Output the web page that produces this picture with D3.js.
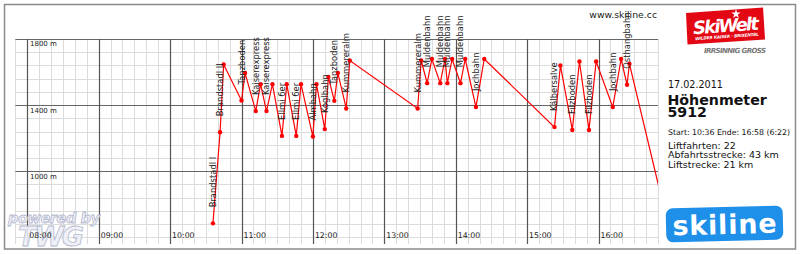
<!DOCTYPE html>
<html><head><meta charset="utf-8">
<script src="https://cdn.jsdelivr.net/npm/d3@7/dist/d3.min.js"></script>
<style>html,body{margin:0;padding:0;background:#fff;}svg{display:block;font-family:"DejaVu Sans",sans-serif;}</style>
</head><body>
<svg id="c" width="800" height="254"></svg>
<script>
// ---- data ----
const times = ["10:36","10:42","10:45","11:00","11:03","11:12","11:16","11:21","11:26","11:34","11:38","11:46","11:50","12:00","12:03","12:10","12:13","12:18","12:21","12:28","12:31","13:28","13:31","13:36","13:40","13:47","13:51","13:53","13:57","14:04","14:08","14:17","14:24","15:23","15:28","15:38","15:44","15:52","15:58","16:12","16:19","16:24","16:26","16:58"];
const elevations = [685,1236,1646,1428,1594,1364,1527,1364,1527,1214,1527,1214,1527,1210,1527,1255,1570,1426,1594,1380,1670,1380,1670,1533,1679,1533,1679,1533,1679,1533,1679,1388,1679,1267,1640,1250,1664,1250,1664,1388,1679,1523,1650,685];
const lifts = ["Brandstadl I","Brandstadl II","","Tanzboden","","Kaiserexpress","","Kaiserexpress","","Ellmi 6er","","Ellmi 6er","","Almbahn","","Koglbahn","","Tanzboden","","Kummereralm","","Kummereralm","","Muldenbahn","","Muldenbahn","","Muldenbahn","","Muldenbahn","","Jochbahn","","Kälbersalve","","Filzboden","","Filzboden","","Jochbahn","","Osthangbahn","",""];
const hourTicks = ["08:00","09:00","10:00","11:00","12:00","13:00","14:00","15:00","16:00"];
const elevTicks = [1000,1400,1800];
const infoDate = "17.02.2011";
const infoTitle = "Höhenmeter";
const infoValue = "5912";
const infoStart = "Start: 10:36 Ende: 16:58 (6:22)";
const infoLines = ["Liftfahrten: 22","Abfahrtsstrecke: 43 km","Liftstrecke: 21 km"];

// ---- setup ----
const svg = d3.select("#c");
const parse = d3.timeParse("%H:%M");
const data = times.map((t,i)=>({t:parse(t), e:elevations[i], lift:lifts[i]}));
const x = d3.scaleTime().domain([parse("07:50"), parse("16:50")]).range([15.4, 658]);
const y = d3.scaleLinear().domain([560,1800]).range([244,39]);
const [x0,x1] = x.range(), [yb,yt] = y.range();

// frame
svg.append("rect").attr("x",4.5).attr("y",4.5).attr("width",791).attr("height",244.5)
  .attr("fill","#fff").attr("stroke","#8a8a8a").attr("stroke-width",1.5);

// grid
const g = svg.append("g");
const minorX = d3.timeMinute.every(10).range(parse("07:50"), d3.timeMinute.offset(parse("16:50"),1));
g.selectAll(".vx").data(minorX).join("line")
  .attr("x1",d=>Math.round(x(d))+0.5).attr("x2",d=>Math.round(x(d))+0.5)
  .attr("y1",yt).attr("y2",yb).attr("stroke","#dcdcdc").attr("stroke-width",1);
const minorY = d3.range(600,1801,80);
g.selectAll(".hy").data(minorY).join("line")
  .attr("x1",x0).attr("x2",x1)
  .attr("y1",d=>Math.round(y(d))+0.5).attr("y2",d=>Math.round(y(d))+0.5)
  .attr("stroke","#dcdcdc").attr("stroke-width",1);
g.selectAll(".My").data(elevTicks).join("line")
  .attr("x1",x0).attr("x2",x1)
  .attr("y1",d=>Math.round(y(d))+0.5).attr("y2",d=>Math.round(y(d))+0.5)
  .attr("stroke","#666").attr("stroke-width",1.2);
g.selectAll(".Mx").data(hourTicks).join("line")
  .attr("x1",d=>Math.round(x(parse(d)))+0.5).attr("x2",d=>Math.round(x(parse(d)))+0.5)
  .attr("y1",yt).attr("y2",yb).attr("stroke","#555").attr("stroke-width",1.2);

// watermark (under tick labels)
const wm = svg.append("g").attr("font-weight","bold").attr("font-style","italic")
  .attr("fill","#eef0f8").attr("fill-opacity",0.9).attr("stroke","#b4b9cf").attr("stroke-width",0.8);
wm.append("text").attr("x",8).attr("y",223).attr("font-size",14.5).attr("textLength",92).text("powered by");
wm.append("text").attr("x",18).attr("y",246).attr("font-size",27).attr("textLength",66).text("TWG");

// tick labels
g.raise();
svg.selectAll(".xl").data(hourTicks).join("text").attr("class","xl")
  .attr("x",d=>x(parse(d))+2).attr("y",238).attr("font-size",7.8).attr("fill","#222").text(d=>d);
svg.selectAll(".yl").data(elevTicks).join("text").attr("class","yl")
  .attr("x",x(parse("08:00"))+2.7).attr("y",d=>y(d)+7.4).attr("font-size",7).attr("fill","#222").text(d=>d+" m");
wm.raise();
svg.selectAll(".xl").raise();

// url
svg.append("text").attr("x",657).attr("y",17.5).attr("text-anchor","end").attr("font-size",9.3).attr("fill","#222").text("www.skiline.cc");

// clip
svg.append("clipPath").attr("id","pc").append("rect").attr("x",x0).attr("y",0).attr("width",x1-x0).attr("height",254);
const plot = svg.append("g").attr("clip-path","url(#pc)");
plot.append("path").datum(data).attr("fill","none").attr("stroke","#ff0000").attr("stroke-width",1.2)
  .attr("d",d3.line().x(d=>x(d.t)).y(d=>y(d.e)));
plot.selectAll("circle").data(data).join("circle")
  .attr("cx",d=>x(d.t)).attr("cy",d=>y(d.e)).attr("r",2.2).attr("fill","#ff0000");

// lift labels
svg.selectAll(".lift").data(data.filter(d=>d.lift)).join("text").attr("class","lift")
  .attr("transform",d=>`translate(${x(d.t)+3},${y(d.e)-16}) rotate(-90)`)
  .attr("font-size",8.4).attr("fill","#222").text(d=>d.lift);

// SkiWelt logo
const sw = svg.append("g");
sw.append("polygon").attr("points","686,13 763,7.5 765,39.5 687.5,44.5").attr("fill","#e30613");
sw.append("text").attr("x",726).attr("y",32).attr("text-anchor","middle").attr("transform","rotate(-4,726,27)")
  .attr("font-size",18).attr("font-weight","bold").attr("font-style","italic").attr("fill","#fff").attr("textLength",66).text("SkiWelt");
sw.append("text").attr("x",727).attr("y",38).attr("text-anchor","middle").attr("transform","rotate(-4,726,37)")
  .attr("font-size",4.2).attr("font-weight","bold").attr("font-style","italic").attr("fill","#fff").attr("textLength",64).text("WILDER KAISER · BRIXENTAL");
sw.append("path").attr("d",d3.symbol(d3.symbolStar,28)()).attr("transform","translate(736,14)").attr("fill","#fff");
svg.append("text").attr("x",735).attr("y",53).attr("text-anchor","middle")
  .attr("font-size",7).attr("font-weight","bold").attr("font-style","italic").attr("fill","#777").attr("textLength",62).text("IRRSINNIG GROSS");

// info texts
const info = svg.append("g").attr("fill","#111");
info.append("text").attr("x",668).attr("y",87.5).attr("font-size",9.6).text(infoDate);
info.append("text").attr("x",667.5).attr("y",104.5).attr("font-size",14.2).attr("font-weight","bold").text(infoTitle);
info.append("text").attr("x",667.5).attr("y",117).attr("font-size",14.2).attr("font-weight","bold").text(infoValue);
info.append("text").attr("x",668).attr("y",134.5).attr("font-size",7.8).attr("textLength",122).text(infoStart);
info.selectAll(".il").data(infoLines).join("text")
  .attr("x",668).attr("y",(d,i)=>148.5+i*9.7).attr("font-size",9.5).text(d=>d);

// skiline logo
const sk = svg.append("g").attr("transform","rotate(-1.5,724,224)");
sk.append("rect").attr("x",666).attr("y",207).attr("width",117).attr("height",34).attr("rx",7).attr("fill","#1e90ea");
sk.append("text").attr("x",724.5).attr("y",234).attr("text-anchor","middle").attr("font-size",27)
  .attr("font-weight","bold").attr("fill","#fff").attr("textLength",104).text("skiline");
</script>
</body></html>
